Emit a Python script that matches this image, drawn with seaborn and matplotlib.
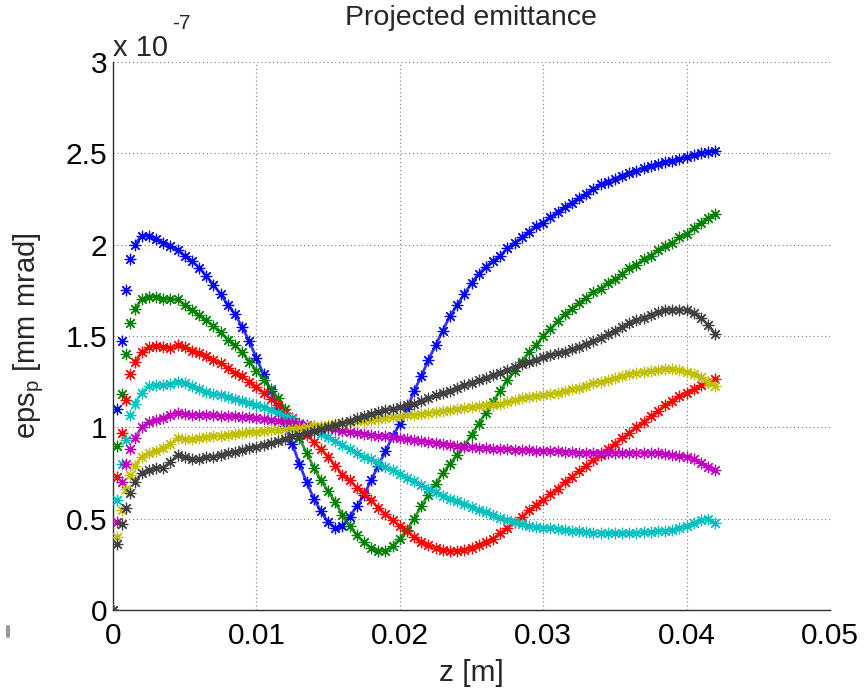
import numpy as np
import pandas as pd
import matplotlib
matplotlib.use("Agg")
import matplotlib.pyplot as plt
import seaborn as sns
from matplotlib.ticker import FuncFormatter, FixedLocator
from matplotlib.lines import Line2D

# ---------------- data (emittance in units of 1e-7) ----------------
z_m = [0, 0.0003, 0.0006, 0.0009, 0.0012, 0.0015,
       0.002, 0.0025, 0.003, 0.0035, 0.004, 0.0045, 0.005, 0.0055, 0.006, 0.0065,
       0.007, 0.0075, 0.008, 0.0085, 0.009, 0.0095, 0.010, 0.0105, 0.011, 0.0115,
       0.012, 0.0125, 0.013, 0.0135, 0.014, 0.0145, 0.015, 0.0155, 0.016, 0.0165,
       0.017, 0.0175, 0.018, 0.0185, 0.019, 0.0195, 0.020, 0.0205, 0.021, 0.0215,
       0.022, 0.0225, 0.023, 0.0235, 0.024, 0.0245, 0.025, 0.0255, 0.026, 0.0265,
       0.027, 0.0275, 0.028, 0.0285, 0.029, 0.0295, 0.030, 0.0305, 0.031, 0.0315,
       0.032, 0.0325, 0.033, 0.0335, 0.034, 0.0345, 0.035, 0.0355, 0.036, 0.0365,
       0.037, 0.0375, 0.038, 0.0385, 0.039, 0.0395, 0.040, 0.0405, 0.041, 0.0415,
       0.042]

eps_blue = [0, 1.10, 1.47, 1.75, 1.92, 2.00,
            2.05, 2.05, 2.03, 2.01, 1.99, 1.97, 1.94, 1.91, 1.875, 1.83,
            1.78, 1.73, 1.67, 1.62, 1.55, 1.47, 1.38, 1.29, 1.20, 1.11,
            1.01, 0.91, 0.80, 0.70, 0.61, 0.54, 0.48, 0.45, 0.46, 0.51,
            0.57, 0.63, 0.71, 0.79, 0.87, 0.95, 1.02, 1.10, 1.20, 1.28,
            1.37, 1.45, 1.53, 1.61, 1.67, 1.73, 1.79, 1.84, 1.88, 1.91,
            1.94, 1.98, 2.01, 2.04, 2.07, 2.10, 2.12, 2.15, 2.18, 2.205,
            2.23, 2.255, 2.28, 2.305, 2.33, 2.345, 2.36, 2.375, 2.39, 2.405,
            2.42, 2.43, 2.44, 2.45, 2.46, 2.47, 2.48, 2.49, 2.50, 2.505,
            2.515]

eps_green = [0, 0.90, 1.18, 1.40, 1.57, 1.65,
             1.70, 1.715, 1.715, 1.705, 1.70, 1.70, 1.67, 1.64, 1.615, 1.585,
             1.555, 1.52, 1.48, 1.45, 1.41, 1.36, 1.31, 1.26, 1.21, 1.16,
             1.10, 1.03, 0.94, 0.86, 0.78, 0.71, 0.65, 0.59, 0.52, 0.46,
             0.41, 0.37, 0.34, 0.325, 0.325, 0.35, 0.39, 0.44, 0.50, 0.57,
             0.63, 0.69, 0.75, 0.80, 0.85, 0.90, 0.96, 1.02, 1.08, 1.14,
             1.20, 1.26, 1.31, 1.36, 1.41, 1.45, 1.50, 1.54, 1.58, 1.62,
             1.65, 1.68, 1.71, 1.74, 1.76, 1.79, 1.81, 1.84, 1.87, 1.89,
             1.92, 1.94, 1.97, 1.99, 2.01, 2.04, 2.06, 2.09, 2.12, 2.145,
             2.17]

eps_red = [0, 0.73, 0.97, 1.15, 1.29, 1.36,
           1.41, 1.44, 1.445, 1.44, 1.435, 1.45, 1.44, 1.42, 1.405, 1.39,
           1.37, 1.35, 1.325, 1.30, 1.28, 1.25, 1.22, 1.19, 1.155, 1.12,
           1.08, 1.05, 1.01, 0.96, 0.92, 0.88, 0.84, 0.79, 0.74, 0.71,
           0.67, 0.64, 0.60, 0.56, 0.525, 0.49, 0.46, 0.43, 0.40, 0.375,
           0.355, 0.34, 0.33, 0.325, 0.325, 0.33, 0.34, 0.355, 0.37, 0.39,
           0.42, 0.45, 0.48, 0.51, 0.545, 0.575, 0.60, 0.635, 0.665, 0.70,
           0.73, 0.76, 0.79, 0.82, 0.85, 0.88, 0.91, 0.94, 0.97, 1.00,
           1.03, 1.06, 1.09, 1.12, 1.145, 1.17, 1.19, 1.21, 1.23, 1.25,
           1.265]

eps_cyan = [0, 0.60, 0.80, 0.93, 1.07, 1.13,
            1.19, 1.225, 1.23, 1.23, 1.235, 1.25, 1.24, 1.225, 1.21, 1.195,
            1.185, 1.175, 1.165, 1.155, 1.145, 1.135, 1.125, 1.11, 1.095, 1.08,
            1.06, 1.045, 1.025, 1.005, 0.985, 0.965, 0.945, 0.925, 0.905, 0.88,
            0.86, 0.84, 0.825, 0.805, 0.785, 0.765, 0.745, 0.725, 0.705, 0.685,
            0.665, 0.645, 0.625, 0.61, 0.595, 0.58, 0.565, 0.55, 0.535, 0.52,
            0.505, 0.49, 0.48, 0.47, 0.46, 0.455, 0.45, 0.447, 0.445, 0.44,
            0.435, 0.43, 0.425, 0.42, 0.42, 0.42, 0.42, 0.42, 0.42, 0.42,
            0.425, 0.425, 0.43, 0.435, 0.44, 0.45, 0.46, 0.475, 0.49, 0.50,
            0.475]

eps_magenta = [0, 0.48, 0.70, 0.80, 0.88, 0.94,
               1.00, 1.03, 1.04, 1.05, 1.065, 1.08, 1.075, 1.07, 1.07, 1.067,
               1.065, 1.063, 1.06, 1.06, 1.058, 1.055, 1.05, 1.045, 1.04, 1.035,
               1.03, 1.025, 1.02, 1.015, 1.01, 1.0, 0.995, 0.99, 0.982, 0.975,
               0.97, 0.965, 0.96, 0.955, 0.95, 0.945, 0.94, 0.935, 0.93, 0.925,
               0.92, 0.915, 0.91, 0.905, 0.90, 0.895, 0.89, 0.888, 0.886, 0.884,
               0.882, 0.88, 0.878, 0.876, 0.875, 0.873, 0.872, 0.87, 0.868, 0.866,
               0.864, 0.862, 0.86, 0.86, 0.86, 0.86, 0.86, 0.86, 0.86, 0.86,
               0.86, 0.86, 0.86, 0.855, 0.85, 0.845, 0.84, 0.825, 0.805, 0.785,
               0.765]

eps_yellow = [0, 0.40, 0.55, 0.66, 0.74, 0.79,
              0.84, 0.86, 0.87, 0.885, 0.91, 0.94, 0.935, 0.935, 0.94, 0.945,
              0.95, 0.953, 0.957, 0.962, 0.967, 0.972, 0.976, 0.98, 0.984, 0.987,
              0.99, 0.993, 0.996, 1.0, 1.005, 1.01, 1.015, 1.02, 1.025, 1.03,
              1.033, 1.037, 1.04, 1.045, 1.05, 1.055, 1.06, 1.065, 1.07, 1.075,
              1.08, 1.085, 1.09, 1.095, 1.10, 1.105, 1.11, 1.115, 1.12, 1.125,
              1.13, 1.14, 1.15, 1.16, 1.165, 1.17, 1.175, 1.18, 1.19, 1.20,
              1.21, 1.215, 1.225, 1.24, 1.25, 1.26, 1.27, 1.28, 1.29, 1.30,
              1.305, 1.31, 1.315, 1.318, 1.318, 1.315, 1.305, 1.29, 1.275, 1.25,
              1.225]

eps_black = [0, 0.36, 0.47, 0.56, 0.64, 0.70,
             0.75, 0.765, 0.775, 0.78, 0.81, 0.85, 0.835, 0.825, 0.825, 0.835,
             0.84, 0.85, 0.86, 0.867, 0.877, 0.886, 0.895, 0.905, 0.915, 0.925,
             0.938, 0.95, 0.96, 0.97, 0.98, 0.99, 1.0, 1.012, 1.025, 1.037,
             1.05, 1.062, 1.075, 1.085, 1.095, 1.10, 1.11, 1.12, 1.13, 1.145,
             1.16, 1.175, 1.19, 1.20, 1.215, 1.23, 1.245, 1.26, 1.27, 1.285,
             1.30, 1.315, 1.33, 1.345, 1.36, 1.37, 1.385, 1.395, 1.405, 1.415,
             1.43, 1.44, 1.455, 1.47, 1.49, 1.51, 1.53, 1.55, 1.57, 1.585,
             1.60, 1.615, 1.63, 1.64, 1.645, 1.645, 1.64, 1.625, 1.60, 1.56,
             1.51]

series_names = ["b", "g", "r", "c", "m", "y", "k"]
series_vals = [eps_blue, eps_green, eps_red, eps_cyan, eps_magenta, eps_yellow, eps_black]
colors = ["#0000ff", "#008000", "#ff0000", "#00bfbf", "#bf00bf", "#bfbf00", "#404040"]

y_ticks = [0, 0.5, 1, 1.5, 2, 2.5, 3]
x_ticks = [0, 0.01, 0.02, 0.03, 0.04, 0.05]
SCALE = 1e-7
DENSE_FROM = 0.0015   # markers overlap into a band from here on

rows = []
for name, vals in zip(series_names, series_vals):
    for zz, vv in zip(z_m, vals):
        rows.append((name, zz, vv * SCALE))
df = pd.DataFrame(rows, columns=["series", "z", "eps"])

# ---------------- figure ----------------
sns.set_theme(style="white")
plt.rcParams["font.family"] = ["Liberation Sans", "DejaVu Sans"]
plt.rcParams["mathtext.fontset"] = "custom"
plt.rcParams["mathtext.rm"] = "Liberation Sans"
plt.rcParams["mathtext.it"] = "Liberation Sans"

fig = plt.figure(figsize=(8.66, 6.89), dpi=100)
fig.patch.set_facecolor("white")
ax = fig.add_axes([113 / 866, 1 - 610 / 689, 717 / 866, 548 / 689])

pal = dict(zip(series_names, colors))
for i, name in enumerate(series_names):
    sub = df[df["series"] == name]
    band = sub[sub["z"] >= DENSE_FROM]
    sns.lineplot(data=band, x="z", y="eps", color=pal[name], linewidth=2.0, alpha=0.8,
                 sort=False, estimator=None, legend=False, ax=ax, zorder=3 + 2 * i)
    sns.scatterplot(data=sub, x="z", y="eps", color=pal[name], marker=(8, 2, 0), s=58,
                    linewidth=0.9, legend=False, ax=ax, zorder=4 + 2 * i)

ax.set_xlim(0, 0.05)
ax.set_ylim(0, 3 * SCALE)
ax.xaxis.set_major_locator(FixedLocator(x_ticks))
ax.yaxis.set_major_locator(FixedLocator([t * SCALE for t in y_ticks]))
ax.xaxis.set_major_formatter(FuncFormatter(lambda v, p: f"{v:g}"))
ax.yaxis.set_major_formatter(FuncFormatter(lambda v, p: f"{v / SCALE:g}"))

ax.grid(True, linestyle=(0, (1, 2.5)), color="#777777", linewidth=0.8)
for s in ["top", "right"]:
    ax.spines[s].set_visible(False)
for s in ["left", "bottom"]:
    ax.spines[s].set_color("#303030")
    ax.spines[s].set_linewidth(1.0)

ax.tick_params(axis="both", direction="in", length=6, width=0.8, color="#303030",
               labelsize=21.5, labelcolor="black")
ax.tick_params(axis="x", pad=9)
ax.tick_params(axis="y", pad=4)

ax.set_xlabel("z [m]", fontsize=21.5, labelpad=6)
ax.set_ylabel("eps$_\\mathrm{p}$ [mm mrad]", fontsize=21, labelpad=14)

fig.text(0.5435, 1 - 18 / 689, "Projected emittance", ha="center", va="center", fontsize=20.5)
# offset multiplier, MATLAB style
fig.text(113 / 866, 1 - 56 / 689, "x 10", ha="left", va="baseline", fontsize=21)
fig.text(172 / 866, 1 - 29 / 689, "-7", ha="left", va="baseline", fontsize=15)

# small grey mark at lower left of the reference image
fig.add_artist(Line2D([8 / 866, 8 / 866], [1 - 627 / 689, 1 - 636 / 689],
                      transform=fig.transFigure, color="#999999", linewidth=3))

fig.savefig("out.png", dpi=100, facecolor="white")
